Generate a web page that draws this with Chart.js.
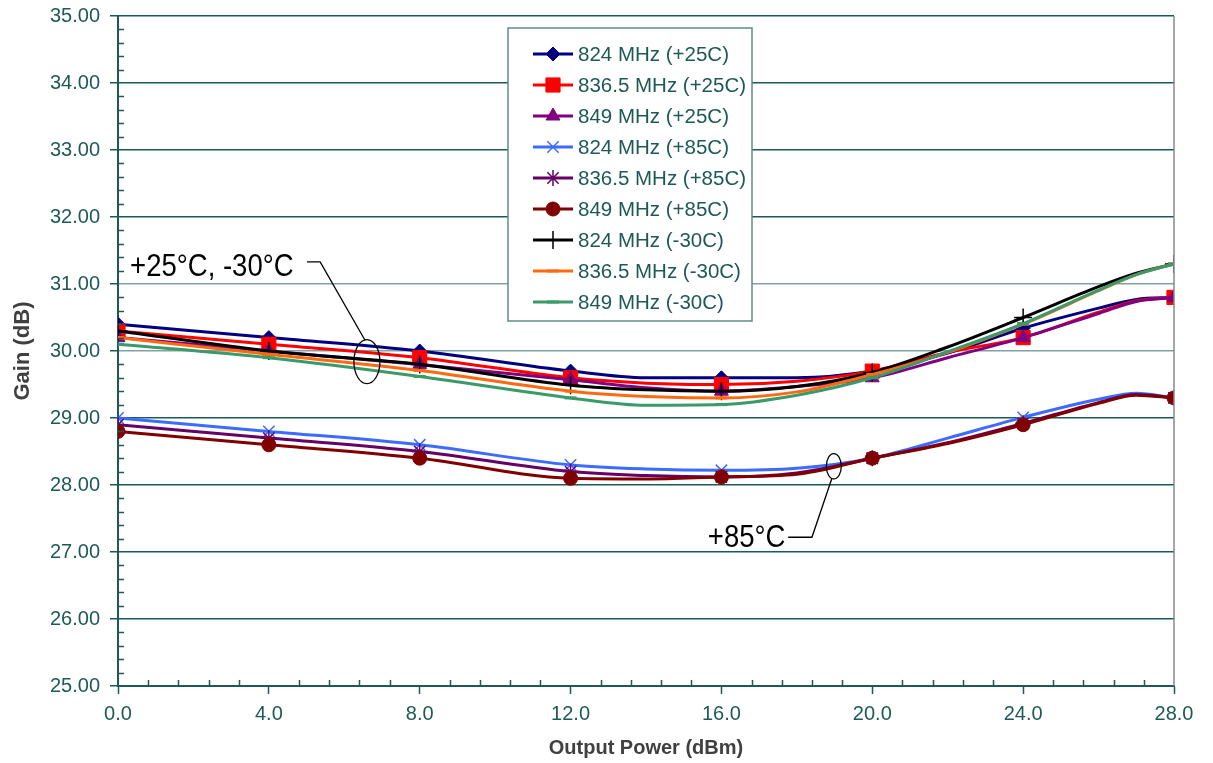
<!DOCTYPE html>
<html>
<head>
<meta charset="utf-8">
<script src="https://cdn.jsdelivr.net/npm/chart.js@4"></script>
<style>
  html, body { margin: 0; padding: 0; background: #fff; }
  #wrap { width: 1213px; height: 763px; }
</style>
</head>
<body>
<div id="wrap"><canvas id="myChart" width="1213" height="763"></canvas></div>
<script>

// output power points (dBm)
const power = [0, 4, 8, 12, 14, 16, 18, 20, 22, 24, 26, 27, 28];

// gain (dB) per curve
const g824_25   = [30.4, 30.2, 30.0, 29.7, 29.6, 29.6, 29.6, 29.7, 29.97, 30.34, 30.64, 30.77, 30.8];
const g8365_25  = [30.3, 30.1, 29.9, 29.6, 29.52, 29.5, 29.55, 29.7, 29.98, 30.2, 30.58, 30.75, 30.8];
const g849_25   = [30.2, 30.0, 29.8, 29.57, 29.45, 29.4, 29.47, 29.6, 29.9, 30.2, 30.56, 30.74, 30.8];
const g824_85   = [29.0, 28.8, 28.6, 28.3, 28.24, 28.22, 28.25, 28.4, 28.7, 29.01, 29.28, 29.37, 29.3];
const g8365_85  = [28.9, 28.7, 28.5, 28.2, 28.14, 28.12, 28.18, 28.4, 28.63, 28.92, 29.23, 29.35, 29.3];
const g849_85   = [28.8, 28.6, 28.4, 28.1, 28.09, 28.12, 28.16, 28.4, 28.62, 28.9, 29.22, 29.34, 29.3];
const g824_m30  = [30.3, 30.0, 29.8, 29.49, 29.42, 29.4, 29.47, 29.68, 30.06, 30.5, 30.96, 31.16, 31.3];
const g8365_m30 = [30.2, 29.95, 29.71, 29.4, 29.32, 29.3, 29.39, 29.65, 29.98, 30.4, 30.9, 31.14, 31.3];
const g849_m30  = [30.1, 29.9, 29.62, 29.3, 29.19, 29.2, 29.34, 29.6, 29.99, 30.41, 30.91, 31.14, 31.3];

const seriesNames = [
  '824 MHz (+25C)', '836.5 MHz (+25C)', '849 MHz (+25C)',
  '824 MHz (+85C)', '836.5 MHz (+85C)', '849 MHz (+85C)',
  '824 MHz (-30C)', '836.5 MHz (-30C)', '849 MHz (-30C)'
];
const seriesValues = [g824_25, g8365_25, g849_25, g824_85, g8365_85, g849_85, g824_m30, g8365_m30, g849_m30];

const yTicks = [25, 26, 27, 28, 29, 30, 31, 32, 33, 34, 35];
const xTicks = [0, 4, 8, 12, 16, 20, 24, 28];

// look of each curve
const styles = [
  {color: '#000080', point: 'rectRot', r: 7, bw: 1},
  {color: '#ff0000', point: 'rect', r: 10, bw: 1},
  {color: '#800080', point: 'triangle', r: 8, bw: 1},
  {color: '#3c6cff', point: 'crossRot', r: 8, bw: 1.5},
  {color: '#660066', point: 'star', r: 8, bw: 1.5},
  {color: '#800000', point: 'circle', r: 7, bw: 1},
  {color: '#000000', point: 'cross', r: 9, bw: 1.5},
  {color: '#ff6a10', point: 'line', r: 6, bw: 3},
  {color: '#3a9a6a', point: 'line', r: 6, bw: 3}
];

const teal = '#1d5a55';
const tickFont = {family: '"Liberation Sans", Arial, sans-serif', size: 20};

const datasets = seriesNames.map((name, i) => ({
  label: name,
  data: power.map((p, k) => ({x: p, y: seriesValues[i][k]})),
  borderColor: styles[i].color,
  backgroundColor: styles[i].color,
  borderWidth: 3,
  pointStyle: styles[i].point,
  pointRadius: c => (c.raw && c.raw.x % 4 === 0 ? styles[i].r : 0),
  pointBorderWidth: styles[i].bw,
  cubicInterpolationMode: 'monotone',
  order: seriesNames.length - i
}));

// minor ticks, right border, callouts, legend box
const extras = {
  id: 'extras',
  afterDraw(chart) {
    const c = chart.ctx;
    const xs = chart.scales.x, ys = chart.scales.y;
    const a = chart.chartArea;

    c.save();
    // right edge
    c.strokeStyle = '#8a8a8a';
    c.lineWidth = 1.5;
    c.beginPath();
    c.moveTo(xs.getPixelForValue(28), a.top);
    c.lineTo(xs.getPixelForValue(28), a.bottom);
    c.stroke();

    // minor ticks inside
    c.strokeStyle = teal;
    c.lineWidth = 1.5;
    for (let i = 0; i <= 50; i++) {
      if (i % 5 === 0) continue;
      const py = Math.round(ys.getPixelForValue(25 + i * 0.2)) + 0.5;
      c.beginPath();
      c.moveTo(a.left, py);
      c.lineTo(a.left + 6, py);
      c.stroke();
    }
    for (let i = 0; i <= 35; i++) {
      if (i % 5 === 0) continue;
      const px = Math.round(xs.getPixelForValue(i * 0.8)) + 0.5;
      c.beginPath();
      c.moveTo(px, a.bottom);
      c.lineTo(px, a.bottom - 6);
      c.stroke();
    }

    // callouts
    const P = (x, y) => [xs.getPixelForValue(x), ys.getPixelForValue(y)];
    const callout = (text, tx, ty, path, ex, ey, rx, ry) => {
      const [px, py] = P(tx, ty);
      c.save();
      c.translate(px, py);
      c.scale(0.86, 1);
      c.fillStyle = '#000';
      c.font = '32px "Liberation Sans", Arial, sans-serif';
      c.textBaseline = 'alphabetic';
      c.fillText(text, 0, 0);
      c.restore();
      c.strokeStyle = '#000';
      c.lineWidth = 1.3;
      c.beginPath();
      path.forEach((pt, k) => {
        const [qx, qy] = P(pt[0], pt[1]);
        if (k === 0) c.moveTo(qx, qy); else c.lineTo(qx, qy);
      });
      c.stroke();
      const [cx, cy] = P(ex, ey);
      c.beginPath();
      c.ellipse(cx, cy, rx, ry, 0, 0, Math.PI * 2);
      c.stroke();
    };
    callout('+25°C, -30°C', 0.32, 31.12, [[5.01, 31.33], [5.36, 31.33], [6.55, 30.16]], 6.6, 29.84, 13, 22);
    callout('+85°C', 15.64, 27.08, [[17.77, 27.22], [18.4, 27.22], [18.93, 28.1]], 18.98, 28.28, 7.5, 12.7);

    // legend
    const lx = 508, ly = 28, lw = 244, lh = 293;
    c.fillStyle = '#fff';
    c.fillRect(lx, ly, lw, lh);
    c.strokeStyle = '#5f8c8a';
    c.lineWidth = 1.5;
    c.strokeRect(lx, ly, lw, lh);
    c.font = '20.5px "Liberation Sans", Arial, sans-serif';
    c.textBaseline = 'middle';
    chart.data.datasets.forEach((ds, i) => {
      const y = ly + 26 + i * 31;
      const st = styles[i];
      c.strokeStyle = st.color;
      c.lineWidth = 3;
      c.beginPath();
      c.moveTo(lx + 25, y);
      c.lineTo(lx + 65, y);
      c.stroke();
      c.fillStyle = st.color;
      c.lineWidth = st.bw;
      Chart.helpers.drawPoint(c, {
        pointStyle: st.point,
        radius: st.r,
        rotation: 0,
        borderWidth: st.bw
      }, lx + 45, y);
      c.fillStyle = teal;
      c.fillText(ds.label, lx + 70, y + 1);
    });
    c.restore();
  }
};

const ctx = document.getElementById('myChart');

new Chart(ctx, {
  type: 'line',
  data: {datasets: datasets},
  options: {
    responsive: false,
    animation: false,
    events: [],
    layout: {padding: {top: 16, right: 39, left: 0, bottom: 0}},
    plugins: {
      legend: {display: false},
      tooltip: {enabled: false}
    },
    scales: {
      x: {
        type: 'linear',
        min: 0,
        max: 28,
        afterBuildTicks: s => { s.ticks = xTicks.map(v => ({value: v})); },
        afterFit: s => { s.height = 77; s.paddingLeft = 0; s.paddingRight = 0; },
        ticks: {
          color: teal,
          font: tickFont,
          padding: 8,
          maxRotation: 0,
          callback: v => Number(v).toFixed(1)
        },
        grid: {drawOnChartArea: false, tickLength: 8, tickColor: teal, tickWidth: 1.5},
        border: {color: teal, width: 2},
        title: {
          display: true,
          text: 'Output Power (dBm)',
          color: '#404040',
          font: {family: '"Liberation Sans", Arial, sans-serif', size: 20, weight: 'bold'},
          padding: {top: 0, bottom: 3}
        }
      },
      y: {
        min: 25,
        max: 35,
        afterBuildTicks: s => { s.ticks = yTicks.map(v => ({value: v})); },
        afterFit: s => { s.width = 118; s.paddingTop = 0; s.paddingBottom = 0; },
        ticks: {
          color: teal,
          font: tickFont,
          padding: 10,
          callback: v => Number(v).toFixed(2)
        },
        grid: {
          color: c => (c.tick && (c.tick.value === 30 || c.tick.value === 31) ? '#7fa3a2' : teal),
          lineWidth: 1.5,
          tickLength: 8,
          tickColor: teal
        },
        border: {color: teal, width: 2},
        title: {
          display: true,
          text: 'Gain (dB)',
          color: '#404040',
          font: {family: '"Liberation Sans", Arial, sans-serif', size: 22, weight: 'bold'},
          padding: {top: 10, bottom: 0}
        }
      }
    }
  },
  plugins: [extras]
});
</script>
</body>
</html>
